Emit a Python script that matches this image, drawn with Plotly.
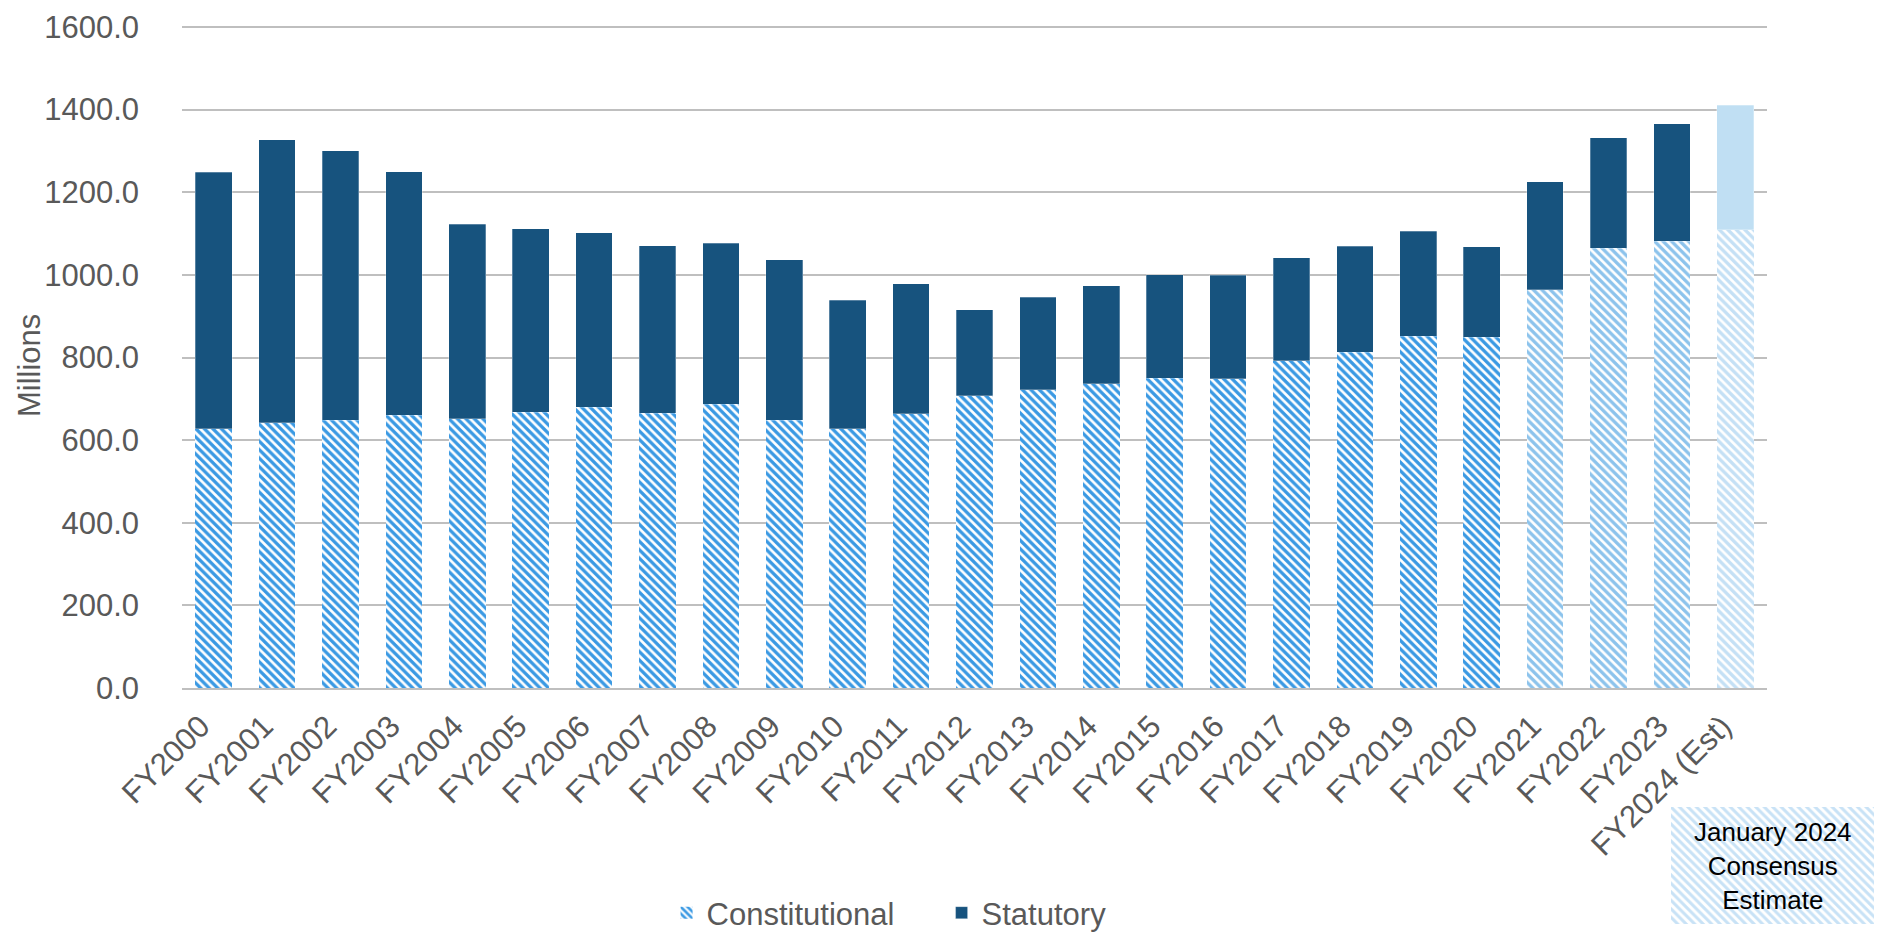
import plotly.graph_objects as go

categories = ["FY2000", "FY2001", "FY2002", "FY2003", "FY2004", "FY2005", "FY2006",
              "FY2007", "FY2008", "FY2009", "FY2010", "FY2011", "FY2012", "FY2013",
              "FY2014", "FY2015", "FY2016", "FY2017", "FY2018", "FY2019", "FY2020",
              "FY2021", "FY2022", "FY2023", "FY2024 (Est)"]

constitutional = [627, 642, 648, 660, 652, 668, 679, 665, 687, 648, 628, 664, 707, 722,
                  737, 750, 749, 792, 813, 851, 849, 964, 1065, 1082, 1109]

totals = [1249, 1327, 1300, 1250, 1122, 1112, 1102, 1071, 1076, 1037, 938, 979, 916, 946,
          974, 1000, 999, 1042, 1069, 1106, 1068, 1225, 1332, 1366, 1410]

statutory = [t - c for t, c in zip(totals, constitutional)]

y_ticks = [0, 200, 400, 600, 800, 1000, 1200, 1400, 1600]
y_title = "Millions"
box_text = "January 2024<br>Consensus<br>Estimate"

# colours
const_colors = ["#3a99e3"] * 21 + ["#8cc3ec"] * 3 + ["#c4e0f5"]
stat_colors = ["#17537e"] * 24 + ["#c0dff3"]

FONT = "Liberation Sans, Arial, sans-serif"
GREY = "#595959"
FS = 31

W, H = 1883, 940
px_left, px_right = 182, 1767
y_max = 1606
px_bottom = 688
px_top = 27 - (y_max - 1600) * (688 - 27) / 1600.0

fig = go.Figure()

fig.add_trace(go.Bar(
    name="Constitutional", x=categories, y=constitutional,
    marker=dict(color="white",
                pattern=dict(shape="\\", fgcolor=const_colors, bgcolor="white",
                             size=6, solidity=0.55, fillmode="replace"),
                line=dict(width=0)),
    hoverinfo="x+y+name",
))
fig.add_trace(go.Bar(
    name="Statutory", x=categories, y=statutory,
    marker=dict(color=stat_colors, line=dict(width=0.8, color="rgba(255,255,255,0.35)")),
    hoverinfo="x+y+name",
))

# decorative hatched box for the estimate note
fig.add_trace(go.Bar(
    x=[0], y=[1], width=[1], xaxis="x2", yaxis="y2", showlegend=False,
    marker=dict(color="white",
                pattern=dict(shape="\\", fgcolor="#c8e2f6", bgcolor="white",
                             size=6, solidity=0.5, fillmode="replace"),
                line=dict(width=0)),
    hoverinfo="skip",
))

fig.update_layout(
    width=W, height=H,
    template="none",
    barmode="stack",
    bargap=0.42,
    paper_bgcolor="white", plot_bgcolor="white",
    margin=dict(l=0, r=0, t=0, b=0),
    font=dict(family=FONT, size=FS, color=GREY),
    xaxis=dict(
        domain=[px_left / W, px_right / W],
        tickangle=-45, tickfont=dict(size=FS, color=GREY),
        ticklabelshift=-13, ticklabelstandoff=6,
        showgrid=False, showline=True, linecolor="#bfbfbf", linewidth=1.5,
        ticks="", automargin=False, anchor="y",
    ),
    yaxis=dict(
        domain=[(H - px_bottom) / H, (H - px_top) / H],
        range=[0, y_max], tickvals=y_ticks, tickformat=".1f",
        tickfont=dict(size=FS, color=GREY), ticklabelstandoff=42,
        showgrid=True, gridcolor="#bfbfbf", gridwidth=1.5,
        zeroline=False, showline=False, ticks="", ticklen=0,
        automargin=False, anchor="x",
    ),
    xaxis2=dict(domain=[1671 / W, 1874 / W], range=[-0.5, 0.5], visible=False,
                anchor="y2", fixedrange=True),
    yaxis2=dict(domain=[16 / H, 133 / H], range=[0, 1], visible=False,
                anchor="x2", fixedrange=True),
    legend=dict(orientation="h", x=0.354, xanchor="left", y=0.0, yanchor="bottom",
                font=dict(size=FS, color=GREY), traceorder="normal",
                entrywidth=230, bgcolor="rgba(0,0,0,0)"),
    annotations=[
        dict(text=y_title, xref="paper", yref="paper", x=30 / W, y=(H - 366) / H,
             textangle=-90, showarrow=False, xanchor="center", yanchor="middle",
             font=dict(family=FONT, size=FS, color=GREY)),
        dict(text=box_text, xref="x2 domain", yref="y2 domain", x=0.5, y=0.5,
             showarrow=False, font=dict(family=FONT, size=26, color="#000000"),
             align="center"),
    ],
)

fig.write_html("out.html", config={"displayModeBar": False},
               post_script="document.body.style.margin='0';")
